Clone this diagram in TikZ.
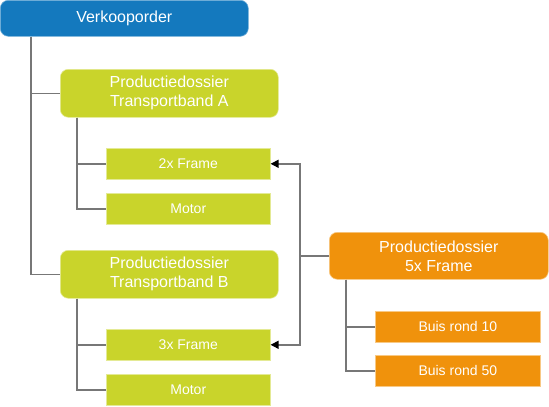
\documentclass[tikz,border=0pt]{standalone}
\usepackage{fontspec}
\setmainfont{Liberation Sans}
\usetikzlibrary{arrows.meta,positioning,calc}
\definecolor{orderblue}{HTML}{1479BE}
\definecolor{dossierlime}{HTML}{C9D42B}
\definecolor{dossierorange}{HTML}{F0920C}
\definecolor{linkgray}{HTML}{777777}

\begin{document}
\begin{tikzpicture}[x=1pt,y=-1pt,
  bigbox/.style={rounded corners=8pt,align=center,text=white,inner sep=0pt,font=\fontsize{16}{19}\selectfont,minimum width=218pt,minimum height=48pt,anchor=north west},
  partbox/.style={align=center,text=white,inner sep=0pt,font=\fontsize{14}{16}\selectfont,minimum width=164pt,minimum height=31pt,anchor=north west},
  conn/.style={draw=linkgray,line width=1.4pt},
  >={Triangle[length=8pt,width=8pt,color=black]}]
\useasboundingbox (0,0) rectangle (549,407);
% order and dossiers
\node[bigbox,fill=orderblue,draw=orderblue!60!white,line width=0.6pt,minimum width=248pt,minimum height=36pt] (V) at (0,0) {Verkooporder};
\node[bigbox,fill=dossierlime,draw=dossierlime!50!white,line width=0.6pt] (A) at (60,69) {Productiedossier\\Transportband A};
\node[bigbox,fill=dossierlime,draw=dossierlime!50!white,line width=0.6pt] (B) at (60,250) {Productiedossier\\Transportband B};
\node[bigbox,fill=dossierorange,draw=dossierorange!50!white,line width=0.6pt,minimum width=219pt,minimum height=47pt] (F) at (329,232) {Productiedossier\\5x Frame};
% parts
\node[partbox,fill=dossierlime,draw=dossierlime!50!white,line width=0.6pt] (A1) at (106,148) {2x Frame};
\node[partbox,fill=dossierlime,draw=dossierlime!50!white,line width=0.6pt] (A2) at (106,193) {Motor};
\node[partbox,fill=dossierlime,draw=dossierlime!50!white,line width=0.6pt] (B1) at (106,329) {3x Frame};
\node[partbox,fill=dossierlime,draw=dossierlime!50!white,line width=0.6pt] (B2) at (106,374) {Motor};
\node[partbox,fill=dossierorange,draw=dossierorange!50!white,line width=0.6pt,minimum width=165pt] (F1) at (375,311) {Buis rond 10};
\node[partbox,fill=dossierorange,draw=dossierorange!50!white,line width=0.6pt,minimum width=165pt] (F2) at (375,355) {Buis rond 50};
% tree lines
\draw[conn] ([xshift=31pt]V.south west) |- (A.west);
\draw[conn] ([xshift=31pt]V.south west) |- (B.west);
\draw[conn] ([xshift=17pt]A.south west) |- (A1.west);
\draw[conn] ([xshift=17pt]A.south west) |- (A2.west);
\draw[conn] ([xshift=17pt]B.south west) |- (B1.west);
\draw[conn] ([xshift=17pt]B.south west) |- (B2.west);
\draw[conn] ([xshift=17pt]F.south west) |- (F1.west);
\draw[conn] ([xshift=17pt]F.south west) |- (F2.west);
% usage arrows
\draw[conn,->] (F.west) -- ++(-29,0) |- (A1.east);
\draw[conn,->] (F.west) -- ++(-29,0) |- (B1.east);
\end{tikzpicture}
\end{document}
